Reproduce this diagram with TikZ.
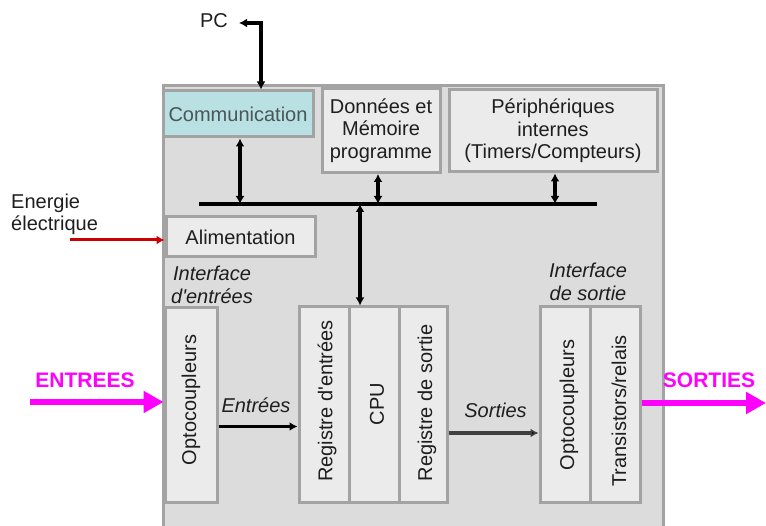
\documentclass[tikz,border=0pt]{standalone}
\usepackage{fontspec}
\setmainfont{Liberation Sans}
\usetikzlibrary{arrows.meta}
\definecolor{outerfill}{HTML}{DCDCDC}
\definecolor{boxfill}{HTML}{EBEBEB}
\definecolor{boxline}{HTML}{A3A3A3}
\definecolor{commfill}{HTML}{B9E0E2}
\definecolor{mag}{HTML}{FF00FF}
\definecolor{redline}{HTML}{CC0000}
\definecolor{darkarrow}{HTML}{404040}
\definecolor{txt}{HTML}{1E1E1E}
\definecolor{commtxt}{HTML}{4A5658}
\begin{document}
\begin{tikzpicture}[x=1pt,y=-1pt,
  every node/.style={font=\fontsize{20}{22.5}\selectfont, text=txt},
  outerbox/.style={draw=boxline, fill=outerfill, line width=3pt, inner sep=0pt},
  blk/.style={draw=boxline, fill=boxfill, line width=3pt, inner sep=0pt},
  vtext/.style={rotate=90, inner sep=0pt},
  lbl/.style={inner sep=0pt, align=center},
  ital/.style={inner sep=0pt, align=center, font=\fontsize{20}{22.5}\selectfont\itshape},
  bigtxt/.style={inner sep=0pt, text=mag, font=\fontsize{21}{24}\selectfont\bfseries},
  bidir/.style={line width=3.2pt, black, {Latex[length=8pt,width=9pt]}-{Latex[length=8pt,width=9pt]}},
  uni/.style={line width=3.2pt, -{Latex[length=8pt,width=9pt]}},
  magarrow/.style={line width=6pt, mag, -{Triangle[length=20pt,width=21pt]}},
]
\useasboundingbox (0,0) rectangle (766,526);

% outer frame
\node[outerbox, anchor=north west, minimum width=500pt, minimum height=470pt] (main) at (162,84) {};

% top blocks
\node[blk, fill=commfill, minimum width=150pt, minimum height=46pt, text=commtxt] (comm) at (238,114) {Communication};
\node[blk, lbl, minimum width=118pt, minimum height=84pt] (don) at (381,130.5) {Données et\\Mémoire\\programme};
\node[blk, lbl, minimum width=208pt, minimum height=82pt] (per) at (553,131) {Périphériques\\internes\\(Timers/Compteurs)};

% bus
\coordinate (busL) at (199,204);
\coordinate (busR) at (597,204);
\coordinate (bcomm) at (240,204);
\coordinate (bdon) at (378,204);
\coordinate (bper) at (555,204);
\coordinate (bcpu) at (360,204);
\draw[line width=3.2pt] (busL) -- (busR);

% alimentation
\node[blk, minimum width=149pt, minimum height=40pt] (alim) at (240.5,237) {Alimentation};

% interface labels
\node[ital] (ifin) at (212,285) {Interface\\d\textquotesingle entrées};
\node[ital] (ifout) at (588,282) {Interface\\de sortie};

% input column
\node[blk, minimum width=52pt, minimum height=194pt] (optin) at (191,405) {};
\node[vtext] (toptin) at (191,400) {Optocoupleurs};

% register / CPU group
\node[blk, minimum width=50pt, minimum height=195pt] (reg1) at (324,404.5) {};
\node[blk, minimum width=50pt, minimum height=195pt] (cpu) at (374,404.5) {};
\node[blk, minimum width=48pt, minimum height=195pt] (reg2) at (423,404.5) {};
\node[vtext] (treg1) at (327,401) {Registre d\textquotesingle entrées};
\node[vtext] (tcpu) at (377,404) {CPU};
\node[vtext] (treg2) at (427,403) {Registre de sortie};

% output group
\node[blk, minimum width=50pt, minimum height=195pt] (optout) at (565,404.5) {};
\node[blk, minimum width=50pt, minimum height=195pt] (trans) at (615,404.5) {};
\node[vtext] (toptout) at (569,405) {Optocoupleurs};
\node[vtext] (ttrans) at (619,411) {Transistors/relais};

% bus connectors
\draw[bidir] (comm.south -| bcomm) -- (bcomm);
\draw[bidir] (don.south -| bdon) -- (bdon);
\draw[bidir] (per.south -| bper) -- (bper);
\draw[bidir] (bcpu) -- (cpu.north -| bcpu);

% PC
\node[inner sep=0pt] (pc) at (214,20.5) {PC};
\coordinate (pcbend) at (261,23);
\coordinate (pcend) at (239,23);
\draw[bidir] (pcend) -- (pcbend) -- (comm.north -| pcbend);

% energy
\node[inner sep=0pt, align=left, anchor=west] (energie) at (11,214.5) {Energie\\électrique};
\coordinate (estart) at (70,240);
\draw[line width=3pt, redline, -{Latex[length=8pt,width=9pt]}] (estart) -- (alim.west |- estart);

% internal arrows
\node[ital] (lent) at (256,405.5) {Entrées};
\node[ital] (lsor) at (495.5,410.5) {Sorties};
\draw[uni, black] (optin.east |- 0,426.5) -- (reg1.west |- 0,426.5);
\draw[line width=3.2pt, darkarrow, -{Latex[length=8pt,width=9pt,fill=black]}] (reg2.east |- 0,433) -- (optout.west |- 0,433);

% ENTREES / SORTIES
\node[bigtxt] (tin) at (85,380.5) {ENTREES};
\node[bigtxt] (tout) at (709,380.5) {SORTIES};
\coordinate (instart) at (30,402);
\coordinate (outend) at (766,403);
\draw[magarrow] (instart) -- (optin.west |- instart);
\draw[magarrow] (trans.east |- outend) -- (outend);
\end{tikzpicture}
\end{document}
